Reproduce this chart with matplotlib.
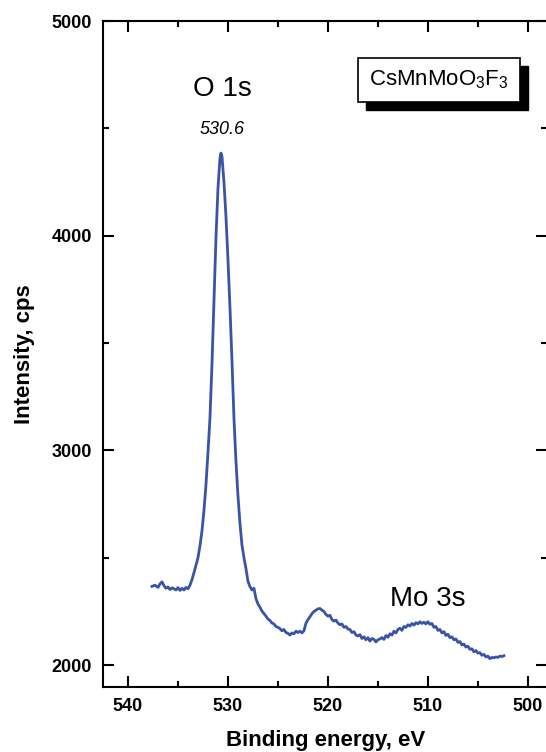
import matplotlib
matplotlib.use('Agg')
import matplotlib.pyplot as plt
from matplotlib.patches import Rectangle
from matplotlib.ticker import MultipleLocator

plt.rcParams['font.family'] = ['Liberation Sans', 'DejaVu Sans']
plt.rcParams['mathtext.fontset'] = 'custom'
plt.rcParams['mathtext.rm'] = 'Liberation Sans'
plt.rcParams['mathtext.it'] = 'Liberation Sans:italic'
plt.rcParams['mathtext.bf'] = 'Liberation Sans:bold'

# O 1s / Mo 3s XPS spectrum
be = [537.6, 537.3, 537.0, 536.8, 536.6, 536.4, 536.2, 536.0, 535.8, 535.6,
      535.4, 535.2, 535.0, 534.8, 534.6, 534.4, 534.2, 534.0, 533.8, 533.6,
      533.4, 533.2, 533.0, 532.8, 532.6, 532.4, 532.2, 532.0, 531.8, 531.6,
      531.4, 531.2, 531.0, 530.8, 530.7, 530.6, 530.4, 530.2, 530.0, 529.8,
      529.6, 529.4, 529.2, 529.0, 528.8, 528.6, 528.4, 528.2, 528.0, 527.8,
      527.6, 527.4, 527.2, 527.0, 526.8, 526.6, 526.4, 526.2, 526.0, 525.8,
      525.6, 525.4, 525.2, 525.0, 524.8, 524.6, 524.4, 524.2, 524.0, 523.8,
      523.6, 523.4, 523.2, 523.0, 522.8, 522.6, 522.4, 522.2, 522.0, 521.8,
      521.6, 521.4, 521.2, 521.0, 520.8, 520.6, 520.4, 520.2, 520.0, 519.8,
      519.6, 519.4, 519.2, 519.0, 518.8, 518.6, 518.4, 518.2, 518.0, 517.8,
      517.6, 517.4, 517.2, 517.0, 516.8, 516.6, 516.4, 516.2, 516.0, 515.8,
      515.6, 515.4, 515.2, 515.0, 514.8, 514.6, 514.4, 514.2, 514.0, 513.8,
      513.6, 513.4, 513.2, 513.0, 512.8, 512.6, 512.4, 512.2, 512.0, 511.8,
      511.6, 511.4, 511.2, 511.0, 510.8, 510.6, 510.4, 510.2, 510.0, 509.8,
      509.6, 509.4, 509.2, 509.0, 508.8, 508.6, 508.4, 508.2, 508.0, 507.8,
      507.6, 507.4, 507.2, 507.0, 506.8, 506.6, 506.4, 506.2, 506.0, 505.8,
      505.6, 505.4, 505.2, 505.0, 504.8, 504.6, 504.4, 504.2, 504.0, 503.8,
      503.6, 503.4, 503.2, 503.0, 502.8, 502.6, 502.4]

counts = [2367, 2372, 2362, 2378, 2388, 2370, 2358, 2364, 2352, 2360,
          2356, 2350, 2361, 2348, 2358, 2350, 2362, 2356, 2372, 2398,
          2430, 2465, 2500, 2555, 2625, 2720, 2840, 2990, 3150, 3400,
          3700, 3990, 4220, 4360, 4385, 4370, 4250, 4090, 3890, 3667,
          3420, 3150, 2950, 2790, 2660, 2560, 2500, 2450, 2390, 2366,
          2350, 2358, 2310, 2285, 2270, 2252, 2240, 2228, 2215, 2208,
          2196, 2192, 2180, 2176, 2170, 2160, 2166, 2152, 2148, 2140,
          2150, 2146, 2158, 2152, 2158, 2150, 2160, 2195, 2212, 2225,
          2240, 2250, 2256, 2262, 2264, 2256, 2250, 2236, 2228, 2232,
          2212, 2205, 2210, 2196, 2188, 2192, 2176, 2180, 2168, 2166,
          2152, 2156, 2140, 2136, 2142, 2124, 2132, 2118, 2128, 2112,
          2124, 2120, 2108, 2118, 2122, 2128, 2120, 2138, 2130, 2146,
          2140, 2158, 2150, 2166, 2172, 2162, 2180, 2176, 2188, 2182,
          2194, 2186, 2198, 2192, 2202, 2194, 2200, 2192, 2202, 2190,
          2194, 2176, 2180, 2162, 2166, 2150, 2156, 2138, 2144, 2128,
          2132, 2118, 2122, 2106, 2110, 2094, 2098, 2084, 2088, 2074,
          2076, 2062, 2068, 2056, 2058, 2046, 2050, 2038, 2042, 2030,
          2036, 2034, 2038, 2036, 2042, 2040, 2044]

x_ticks = [540, 530, 520, 510, 500]
y_ticks = [2000, 3000, 4000, 5000]

fig = plt.figure(figsize=(5.46, 7.52), dpi=100)
ax = fig.add_axes([0.1886, 0.0864, 0.814, 0.8856])

ax.plot(be, counts, color='#3953a6', lw=2.0)

ax.set_xlim(542.5, 498.05)
ax.set_ylim(1898, 5000)
ax.set_xticks(x_ticks)
ax.set_yticks(y_ticks)
ax.xaxis.set_minor_locator(MultipleLocator(5))
ax.yaxis.set_minor_locator(MultipleLocator(500))
ax.tick_params(which='both', direction='in', top=True, right=True, width=1.5)
ax.tick_params(which='major', length=8, labelsize=13, pad=8)
ax.tick_params(which='minor', length=4)
for lab in ax.get_xticklabels() + ax.get_yticklabels():
    lab.set_fontweight('bold')
for sp in ax.spines.values():
    sp.set_linewidth(1.5)

ax.set_xlabel('Binding energy, eV', fontsize=16, fontweight='bold', labelpad=11)
ax.set_ylabel('Intensity, cps', fontsize=16, fontweight='bold', labelpad=12)

ax.text(530.6, 4683, 'O 1s', fontsize=20, ha='center', va='center')
ax.text(530.6, 4497, '530.6', fontsize=13, style='italic', ha='center', va='center')
ax.text(510, 2310, 'Mo 3s', fontsize=20, ha='center', va='center')

# compound label with drop shadow
bx, by, bw, bh = 0.6557, 0.8644, 0.2967, 0.0585
fig.patches.append(Rectangle((bx + 0.0147, by - 0.0106), bw, bh, transform=fig.transFigure,
                             facecolor='black', edgecolor='black', zorder=5))
fig.patches.append(Rectangle((bx, by), bw, bh, transform=fig.transFigure,
                             facecolor='white', edgecolor='black', lw=1.2, zorder=6))
fig.text(bx + bw / 2, by + bh / 2, r'CsMnMoO$_3$F$_3$', fontsize=16, ha='center', va='center', zorder=7)

fig.savefig('out.png', dpi=100)
